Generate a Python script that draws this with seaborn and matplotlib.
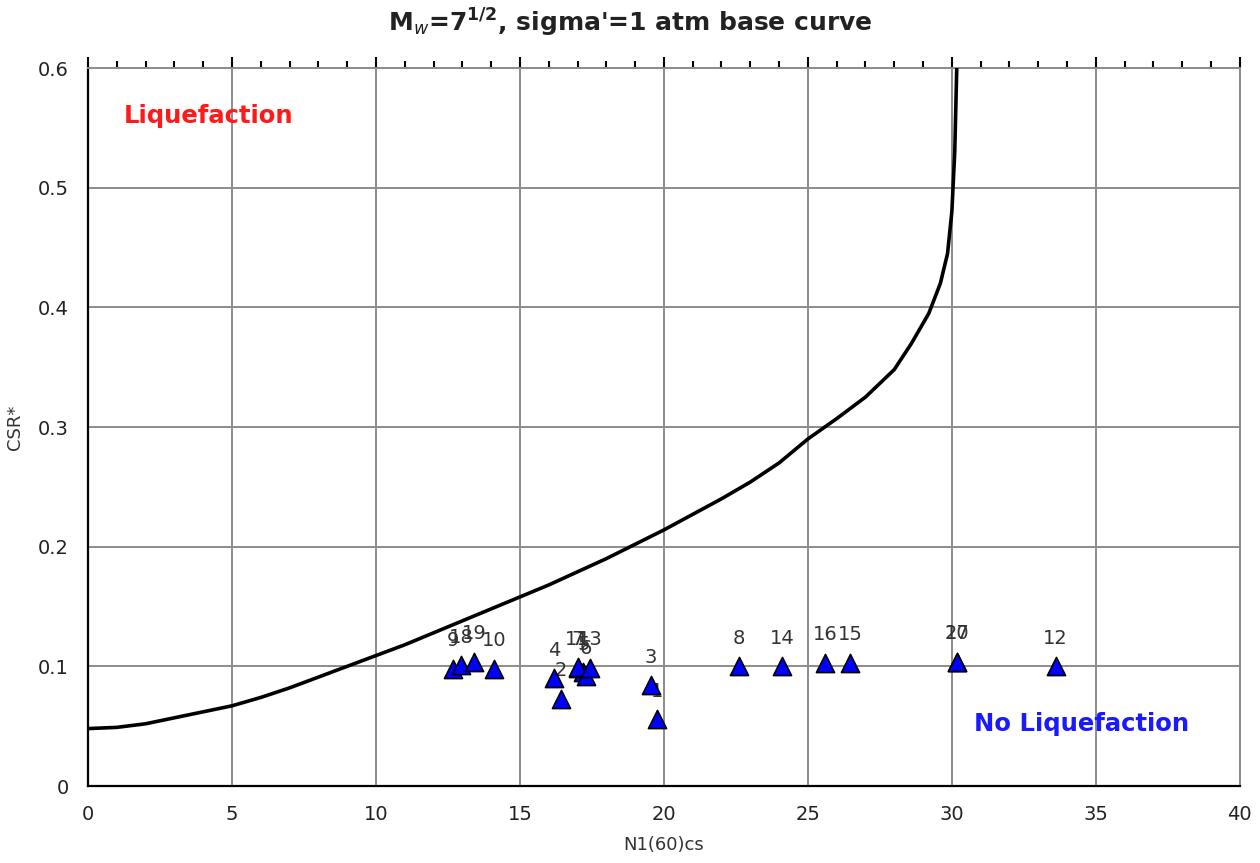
import matplotlib
matplotlib.use("Agg")
import matplotlib.pyplot as plt
from matplotlib.ticker import MultipleLocator
import seaborn as sns
import pandas as pd

# Base liquefaction curve (M = 7.5, sigma' = 1 atm)
curve_n = [0, 1, 2, 3, 4, 5, 6, 7, 8, 9, 10, 11, 12, 13, 14, 15, 16, 17, 18,
           19, 20, 21, 22, 23, 24, 25, 26, 27, 28, 28.6, 29.2, 29.6, 29.85,
           30.0, 30.1, 30.17]
curve_csr = [0.048, 0.049, 0.052, 0.057, 0.062, 0.067, 0.074, 0.082, 0.091,
             0.100, 0.109, 0.118, 0.128, 0.138, 0.148, 0.158, 0.168, 0.179,
             0.190, 0.202, 0.214, 0.227, 0.240, 0.254, 0.270, 0.290, 0.307,
             0.325, 0.348, 0.370, 0.395, 0.420, 0.445, 0.480, 0.530, 0.600]

# Test layers
layer_ids = ["1", "2", "3", "4", "5", "6", "7", "8", "9", "10",
             "11", "12", "13", "14", "15", "16", "17", "18", "19", "20"]
layer_n = [19.76, 16.42, 19.55, 16.18, 17.20, 17.30, 17.00, 22.60, 12.68, 14.10,
           17.00, 33.60, 17.45, 24.10, 26.46, 25.60, 30.17, 12.95, 13.40, 30.17]
layer_csr = [0.056, 0.073, 0.084, 0.090, 0.095, 0.092, 0.099, 0.100, 0.098, 0.098,
             0.0995, 0.100, 0.099, 0.100, 0.103, 0.103, 0.104, 0.101, 0.104, 0.104]

x_ticks = [0, 5, 10, 15, 20, 25, 30, 35, 40]
y_ticks = [0, 0.1, 0.2, 0.3, 0.4, 0.5, 0.6]
y_tick_labels = ["0", "0.1", "0.2", "0.3", "0.4", "0.5", "0.6"]

sns.set_style("white")
plt.rcParams["font.family"] = ["DejaVu Sans"]

curve_df = pd.DataFrame({"N": curve_n, "CSR": curve_csr})
layer_df = pd.DataFrame({"id": layer_ids, "N": layer_n, "CSR": layer_csr})

fig = plt.figure(figsize=(12.6, 8.63), dpi=100)
ax = fig.add_axes([0.0698, 0.0892, 0.9142, 0.832])

ax.set_xlim(0, 40)
ax.set_ylim(0, 0.6)
ax.set_xticks(x_ticks)
ax.set_yticks(y_ticks)
ax.set_yticklabels(y_tick_labels)
ax.xaxis.set_minor_locator(MultipleLocator(1))
ax.yaxis.set_minor_locator(MultipleLocator(0.02))
ax.grid(True, which="major", color="#8c8c8c", linewidth=1.4, zorder=0)
ax.set_axisbelow(True)

ax.tick_params(which="both", direction="out", top=True, right=False,
               colors="black", labelsize=14, labelcolor="#222222")
ax.tick_params(which="major", length=8, width=1.5, pad=6)
ax.tick_params(which="minor", length=5, width=1.5)

for side in ("left", "bottom"):
    ax.spines[side].set_color("black")
    ax.spines[side].set_linewidth(1.6)
for side in ("top", "right"):
    ax.spines[side].set_color("#8c8c8c")
    ax.spines[side].set_linewidth(1.4)

sns.lineplot(data=curve_df, x="N", y="CSR", sort=False, color="black",
             linewidth=2.6, ax=ax, zorder=3)

# point labels sit beneath the markers
for lid, n, c in zip(layer_ids, layer_n, layer_csr):
    ax.annotate(lid, (n, c), xytext=(0, 20), textcoords="offset points",
                ha="center", va="center", fontsize=14, color="#333333",
                zorder=4)

sns.scatterplot(data=layer_df, x="N", y="CSR", marker="^", s=170,
                color="#0000ff", edgecolor="black", linewidth=1.2,
                ax=ax, zorder=5, legend=False)

ax.text(4.2, 0.56, "Liquefaction", color="#ff1a1a", fontsize=17.5,
        fontweight="bold", ha="center", va="center")
ax.text(34.5, 0.052, "No Liquefaction", color="#1a1aff", fontsize=17.5,
        fontweight="bold", ha="center", va="center")

ax.set_xlabel("N1(60)cs", fontsize=13, color="#333333", labelpad=8)
ax.set_ylabel("CSR*", fontsize=13, color="#333333", labelpad=10)
fig.text(0.5, 0.974,
         r"$\mathbf{M}_{w}$=7$^{\mathbf{1/2}}$, sigma'=1 atm base curve",
         fontsize=18, fontweight="bold", color="#222222",
         ha="center", va="center")

fig.savefig("out.png", dpi=100, facecolor="white")
